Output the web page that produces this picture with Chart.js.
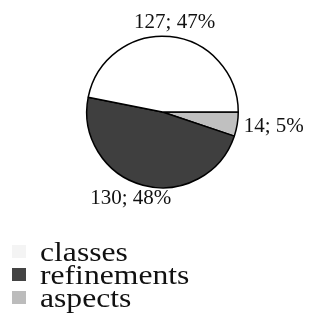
<!DOCTYPE html>
<html>
<head>
<meta charset="utf-8">
<script src="https://cdn.jsdelivr.net/npm/chart.js@4"></script>
<style>
  html, body { margin: 0; padding: 0; background: #fff; }
  #wrap { position: relative; width: 309px; height: 313px; }
  #legend {
    position: absolute; left: 12px; top: 240px;
    font-family: "Liberation Serif", serif; font-size: 28px; line-height: 23px; color: #111;
  }
  #legend div { display: flex; align-items: center; height: 23px; white-space: nowrap; }
  #legend span.box { display: inline-block; width: 14px; height: 13px; margin-right: 14px; }
  #legend span.txt { display: inline-block; transform: scaleX(1.13); transform-origin: left center; }
</style>
</head>
<body>
<div id="wrap">
  <canvas id="pie" width="309" height="313"></canvas>
  <div id="legend"></div>
</div>
<script>
// Pie: share of elements
const categories = ["classes", "refinements", "aspects"];
const counts = [127, 130, 14];
const colors = ["#ffffff", "#3f3f3f", "#c0c0c0"];
const legendColors = ["#f4f4f4", "#444444", "#bcbcbc"];

const total = counts.reduce((a, b) => a + b, 0);

// slices run counter-clockwise in the original, so feed them reversed
const order = categories.map((_, i) => i).reverse();

const sliceLabels = {
  id: "sliceLabels",
  afterDatasetsDraw(chart) {
    const ctx = chart.ctx;
    const meta = chart.getDatasetMeta(0);
    const values = chart.data.datasets[0].data;
    ctx.save();
    ctx.font = "21px 'Liberation Serif', serif";
    ctx.fillStyle = "#111";
    ctx.textAlign = "center";
    ctx.textBaseline = "middle";
    meta.data.forEach((arc, i) => {
      const p = arc.getProps(["x", "y", "startAngle", "endAngle", "outerRadius"], true);
      const mid = (p.startAngle + p.endAngle) / 2;
      const r = p.outerRadius + 7;
      const c = Math.cos(mid), s = Math.sin(mid);
      const v = values[i];
      const text = v + "; " + Math.round(v / total * 100) + "%";
      const w = ctx.measureText(text).width, h = 14;
      ctx.fillText(text, p.x + c * (r + w / 2), p.y + s * (r + h / 2));
    });
    ctx.restore();
  }
};

new Chart(document.getElementById("pie"), {
  type: "pie",
  data: {
    labels: order.map(i => categories[i]),
    datasets: [{
      data: order.map(i => counts[i]),
      backgroundColor: order.map(i => colors[i]),
      borderColor: "#000",
      borderWidth: 1.5,
    }],
  },
  options: {
    responsive: false,
    animation: false,
    rotation: 90,
    layout: { padding: { left: 86, right: 70, top: 34, bottom: 123 } },
    plugins: {
      legend: { display: false },
      tooltip: { enabled: false },
    },
  },
  plugins: [sliceLabels],
});

const legend = document.getElementById("legend");
categories.forEach((name, i) => {
  const row = document.createElement("div");
  const box = document.createElement("span");
  box.className = "box";
  box.style.background = legendColors[i];
  const txt = document.createElement("span");
  txt.className = "txt";
  txt.textContent = name;
  row.appendChild(box);
  row.appendChild(txt);
  legend.appendChild(row);
});
</script>
</body>
</html>
